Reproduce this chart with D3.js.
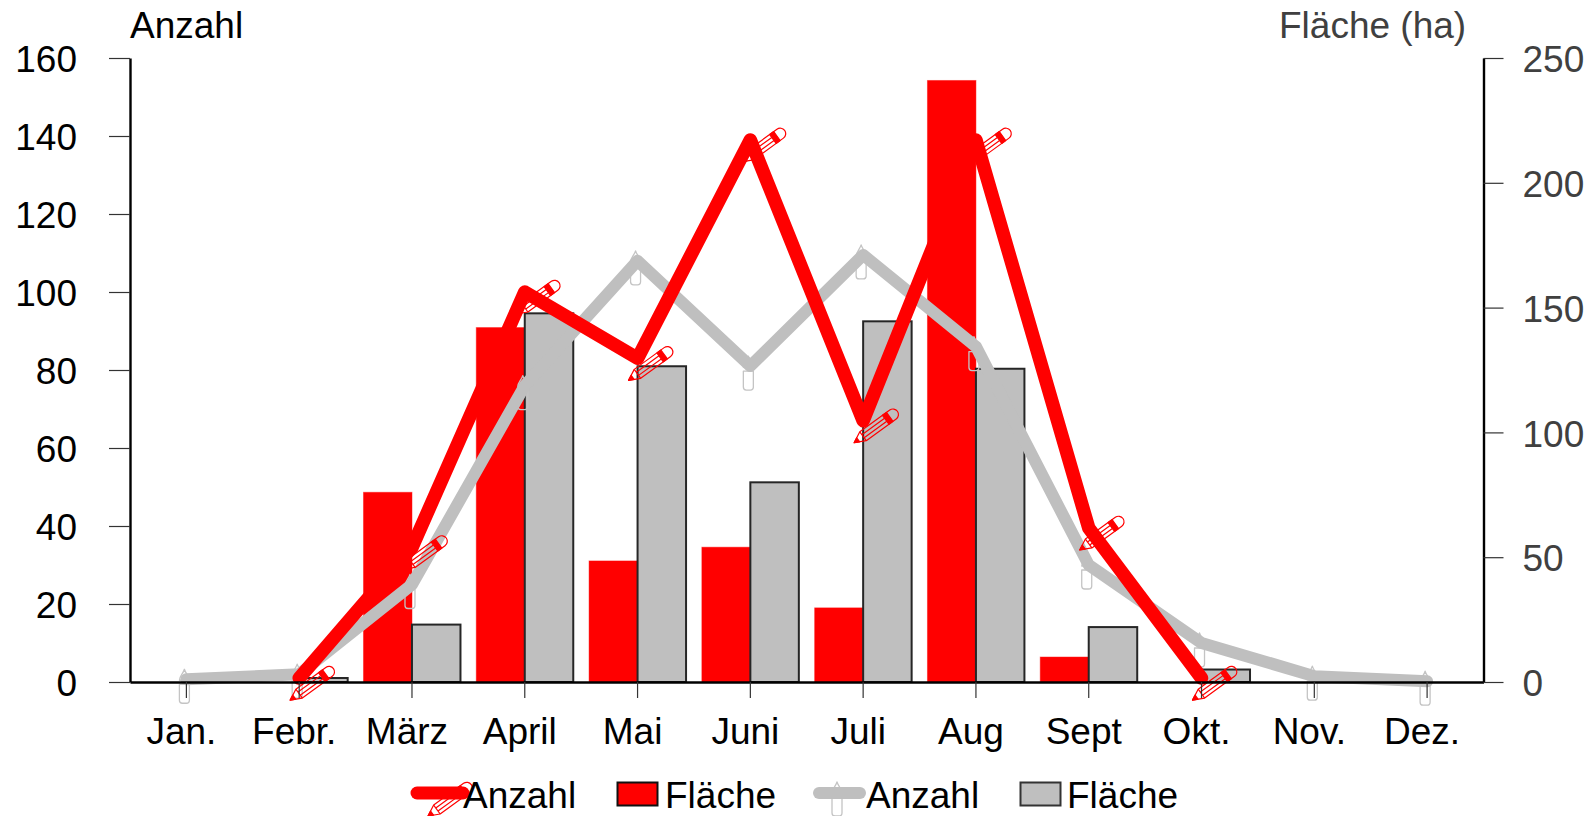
<!DOCTYPE html>
<html><head><meta charset="utf-8">
<script src="https://cdn.jsdelivr.net/npm/d3@7"></script>
<style>html,body{margin:0;padding:0;background:#fff}svg{display:block}text{font-family:"Liberation Sans",Arial,sans-serif}</style>
</head><body><svg id="c" width="1591" height="816"></svg>
<script>
const months=["Jan.","Febr.","März","April","Mai","Juni","Juli","Aug","Sept","Okt.","Nov.","Dez."];
const countRed=[null,1,34.5,100,83,139,67,139,39.5,1,null,null];
const countGrey=[0.7,2,25,76,108,81,109.5,86,30,10,1.5,0.2];
const areaRed=[0,0,76,142,48.5,54,29.7,241,10,0,0,0];
const areaGrey=[0,1.6,23,147.7,126.5,80,144.5,125.5,22,5,0,0];
const leftTicks=[0,20,40,60,80,100,120,140,160];
const rightTicks=[0,50,100,150,200,250];

const RED="#ff0000",GREY="#bfbfbf",FS=37;
const svg=d3.select("#c");
const x0=d3.scaleBand().domain(months).range([130,1483.5]);
const x1=d3.scaleBand().domain(["r","g"]).range([0,x0.bandwidth()]).paddingOuter(0.163).paddingInner(0);
const yL=d3.scaleLinear().domain([0,160]).range([682,58]);
const yR=d3.scaleLinear().domain([0,250]).range([682,58]);
const cx=m=>x0(m)+x0.bandwidth()/2;

function pencil(g){
  const p=g.append("g").attr("fill","none").attr("stroke",RED).attr("stroke-width",1.2).attr("stroke-linejoin","round");
  p.append("path").attr("d","M0,0L11,-5.5L48,-5.5A5.5,5.5 0 0 1 48,5.5L11,5.5Z");
  p.append("path").attr("d","M11,-5.5L11,5.5");
  p.append("path").attr("d","M0,0L5,-2.5L5,2.5Z").attr("fill",RED);
  p.append("path").attr("d","M11,-1.9L39,-1.9M11,1.9L39,1.9");
  p.append("rect").attr("x",39).attr("y",-5.5).attr("width",5).attr("height",11).attr("fill",RED);
}
function candle(g){
  const c=g.append("g").attr("fill","none").attr("stroke","#c4c4c4").attr("stroke-width",1.3).attr("stroke-linejoin","round");
  c.append("path").attr("d","M-5,5L-5,21A3,3 0 0 0 -2,24L2,24A3,3 0 0 0 5,21L5,5Z");
  c.append("path").attr("d","M0,-10C1,-6 5,-3 5,1L-5,1C-5,-3 -1,-6 0,-10Z");
}
const lineL=d3.line().defined(d=>d[1]!=null).x(d=>cx(d[0])).y(d=>yL(d[1]));

// bars
svg.append("g").selectAll("rect").data(months.map((m,i)=>[m,areaRed[i]])).join("rect")
 .attr("x",d=>x0(d[0])+x1("r")).attr("width",x1.bandwidth()).attr("y",d=>yR(d[1])).attr("height",d=>682-yR(d[1]))
 .attr("fill",RED).attr("stroke",RED).attr("stroke-opacity",.45).attr("stroke-width",1);
svg.append("g").selectAll("rect").data(months.map((m,i)=>[m,areaGrey[i]]).filter(d=>d[1]>0)).join("rect")
 .attr("x",d=>x0(d[0])+x1("g")).attr("width",x1.bandwidth()).attr("y",d=>yR(d[1])).attr("height",d=>682-yR(d[1]))
 .attr("fill",GREY).attr("stroke","#262626").attr("stroke-width",2);

// grey series
const gPts=months.map((m,i)=>[m,countGrey[i]]);
gPts.forEach(d=>{candle(svg.append("g").attr("transform",`translate(${cx(d[0])-2},${yL(d[1])})`));});
svg.append("path").attr("d",lineL(gPts)).attr("fill","none").attr("stroke",GREY).attr("stroke-width",12).attr("stroke-linejoin","round").attr("stroke-linecap","round");

// red series
const rPts=months.map((m,i)=>[m,countRed[i]]).filter(d=>d[1]!=null);
rPts.forEach(d=>{pencil(svg.append("g").attr("transform",`translate(${cx(d[0])-9},${yL(d[1])+22}) rotate(-36)`));});
svg.append("path").attr("d",lineL(rPts)).attr("fill","none").attr("stroke",RED).attr("stroke-width",13.5).attr("stroke-linejoin","round").attr("stroke-linecap","round");

// axes
function style(g,col){
  g.select(".domain").attr("stroke","#000").attr("stroke-width",2.4);
  g.selectAll(".tick line").attr("stroke","#333").attr("stroke-width",1.2);
  g.selectAll("text").attr("font-size",FS).attr("fill",col).attr("font-family",'"Liberation Sans",Arial,sans-serif');
}
const gb=svg.append("g").attr("transform","translate(0,682)").call(d3.axisBottom(x0).tickSize(16).tickSizeOuter(0).tickPadding(24));
style(gb,"#000"); gb.selectAll("text").attr("dx",-5).attr("dy","0.6em");
const gl=svg.append("g").attr("transform","translate(130,0)").call(d3.axisLeft(yL).tickValues(leftTicks).tickSize(21).tickSizeOuter(0).tickPadding(32));
style(gl,"#000"); gl.selectAll("text").attr("dy","0.37em");
const gr=svg.append("g").attr("transform","translate(1483.5,0)").call(d3.axisRight(yR).tickValues(rightTicks).tickSize(20).tickSizeOuter(0).tickPadding(19));
style(gr,"#404040"); gr.selectAll("text").attr("dy","0.37em");

svg.append("text").attr("x",130).attr("y",38).attr("font-size",FS).attr("fill","#000").text("Anzahl");
svg.append("text").attr("x",1279).attr("y",38).attr("font-size",FS).attr("fill","#404040").text("Fläche (ha)");

// legend
const LY=793,BASE=807.5;
svg.append("line").attr("x1",417).attr("x2",463).attr("y1",LY).attr("y2",LY).attr("stroke",RED).attr("stroke-width",13).attr("stroke-linecap","round");
pencil(svg.append("g").attr("transform",`translate(428,816) rotate(-36)`));
svg.append("text").attr("x",463).attr("y",BASE).attr("font-size",FS).text("Anzahl");
svg.append("rect").attr("x",617.5).attr("y",782.5).attr("width",40).attr("height",23).attr("fill",RED).attr("stroke","#111").attr("stroke-width",2);
svg.append("text").attr("x",665).attr("y",BASE).attr("font-size",FS).text("Fläche");
candle(svg.append("g").attr("transform",`translate(837,${LY-1})`));
svg.append("line").attr("x1",819).attr("x2",860).attr("y1",LY).attr("y2",LY).attr("stroke",GREY).attr("stroke-width",12).attr("stroke-linecap","round");
svg.append("text").attr("x",866).attr("y",BASE).attr("font-size",FS).text("Anzahl");
svg.append("rect").attr("x",1020.5).attr("y",782.5).attr("width",40).attr("height",23).attr("fill",GREY).attr("stroke","#333").attr("stroke-width",2);
svg.append("text").attr("x",1067).attr("y",BASE).attr("font-size",FS).text("Fläche");
</script></body></html>
